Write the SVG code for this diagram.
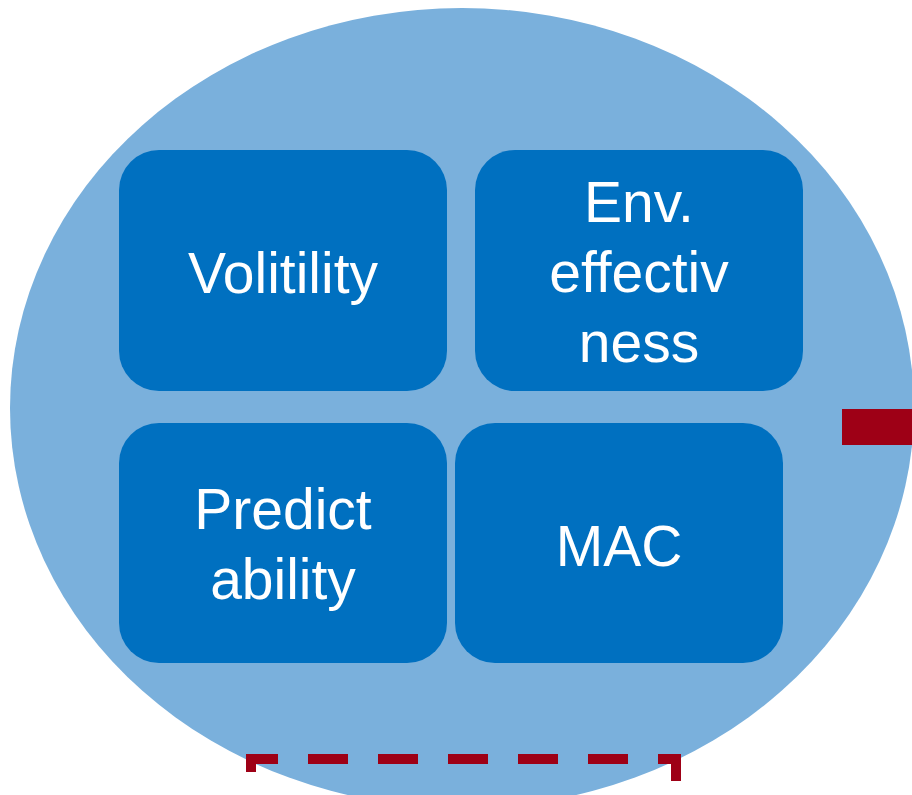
<svg xmlns="http://www.w3.org/2000/svg" width="912" height="795" viewBox="0 0 912 795">
<style>
.box{fill:#0070C0}
.lbl{fill:#fff;font-family:"Liberation Sans",Arial,sans-serif;font-size:57px;text-anchor:middle}
</style>
<rect width="912" height="795" fill="#fff"/>
<ellipse id="circle" cx="462" cy="408" rx="452" ry="400" fill="#7AB0DC"/>
<g id="n1"><rect class="box" x="119" y="150" width="328" height="241" rx="40"/><text class="lbl" x="283" y="293">Volitility</text></g>
<g id="n2"><rect class="box" x="475" y="150" width="328" height="241" rx="40"/><text class="lbl" x="639" y="222">Env.</text><text class="lbl" x="639" y="292">effectiv</text><text class="lbl" x="639" y="362">ness</text></g>
<g id="n3"><rect class="box" x="119" y="423" width="328" height="240" rx="40"/><text class="lbl" x="283" y="529">Predict</text><text class="lbl" x="283" y="599">ability</text></g>
<g id="n4"><rect class="box" x="455" y="423" width="328" height="240" rx="40"/><text class="lbl" x="619" y="566">MAC</text></g>
<g id="connectors">
<rect x="842" y="409" width="70" height="36" fill="#9E0016"/>
<path d="M251 772 L251 759 L676 759 L676 782" fill="none" stroke="#9E0016" stroke-width="10" stroke-dasharray="40 30"/>
</g>
</svg>
